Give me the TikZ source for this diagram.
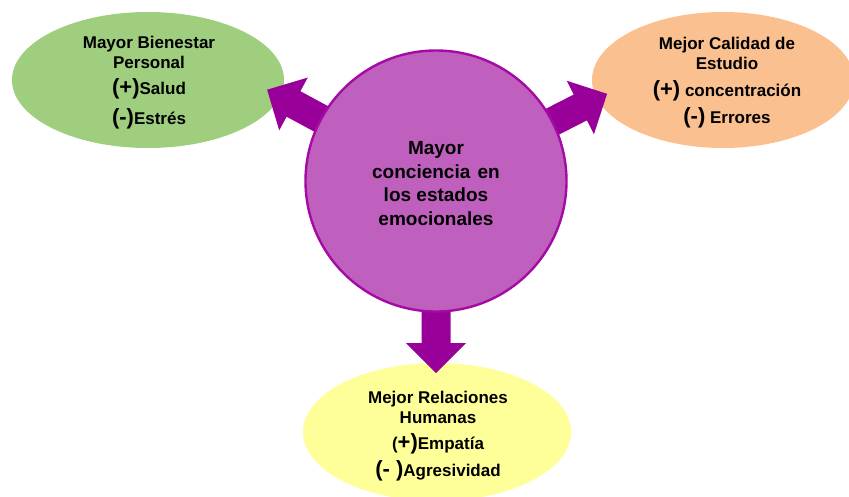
\documentclass[tikz,border=0pt]{standalone}
\usepackage{fontspec}
\setmainfont{Liberation Sans}
\usetikzlibrary{shapes.geometric}
\definecolor{gfill}{RGB}{158,206,126}
\definecolor{ofill}{RGB}{250,192,144}
\definecolor{yfill}{RGB}{255,255,153}
\definecolor{cfill}{RGB}{192,96,190}
\definecolor{cdraw}{RGB}{165,10,165}
\definecolor{arrowc}{RGB}{153,0,153}
\newcommand\bigparen{\fontsize{22}{24}\selectfont}
\begin{document}
\begin{tikzpicture}[x=1pt,y=-1pt,
  blob/.style={ellipse, draw=none, inner sep=0pt, minimum width=272pt, minimum height=136pt},
  txt/.style={align=center, font=\bfseries\fontsize{17}{20}\selectfont, text=black, inner sep=0pt},
  ctxt/.style={align=center, font=\bfseries\fontsize{19}{23.8}\selectfont, text=black, inner sep=0pt},
  blockarrow/.style={fill=arrowc, draw=none}]
\useasboundingbox (0,0) rectangle (849,496);
% outcome ellipses
\node[blob, fill=gfill] (g) at (148,80) {};
\node[blob, fill=ofill, minimum width=262pt] (o) at (723,80) {};
\node[blob, fill=yfill, minimum width=268pt, minimum height=138pt] (y) at (437,432) {};
% block arrows from the centre
\coordinate (c0) at (436,181);
\foreach \a in {151.6,27,-90}{
  \begin{scope}[shift={(c0)}, rotate=\a]
    \path[blockarrow] (100,-14.5) -- (162,-14.5) -- (162,-30) -- (192,0)
      -- (162,30) -- (162,14.5) -- (100,14.5) -- cycle;
  \end{scope}
}
% centre circle
\node[circle, fill=cfill, draw=cdraw, line width=2.4pt, minimum size=261pt, inner sep=0pt] (c) at (c0) {};
\node[ctxt] (ct) at (436,183.5) {Mayor\\conciencia\kern2pt\ en\\los estados\\emocionales};
% texts
\node[txt] (gt) at (149,82.5) {Mayor Bienestar\\Personal\\[6pt]{\bigparen(+)}Salud\\[9pt]{\bigparen(-)}Estrés};
\node[txt] (ot) at (727,82.5) {Mejor Calidad de\\Estudio\\[7pt]{\bigparen(+)} concentración\\[6pt]{\bigparen(-)} Errores};
\node[txt] (yt) at (438,436) {Mejor Relaciones\\Humanas\\[6pt]({\bigparen+)}Empatía\\[6pt]{\bigparen(- )}Agresividad};
\end{tikzpicture}
\end{document}
